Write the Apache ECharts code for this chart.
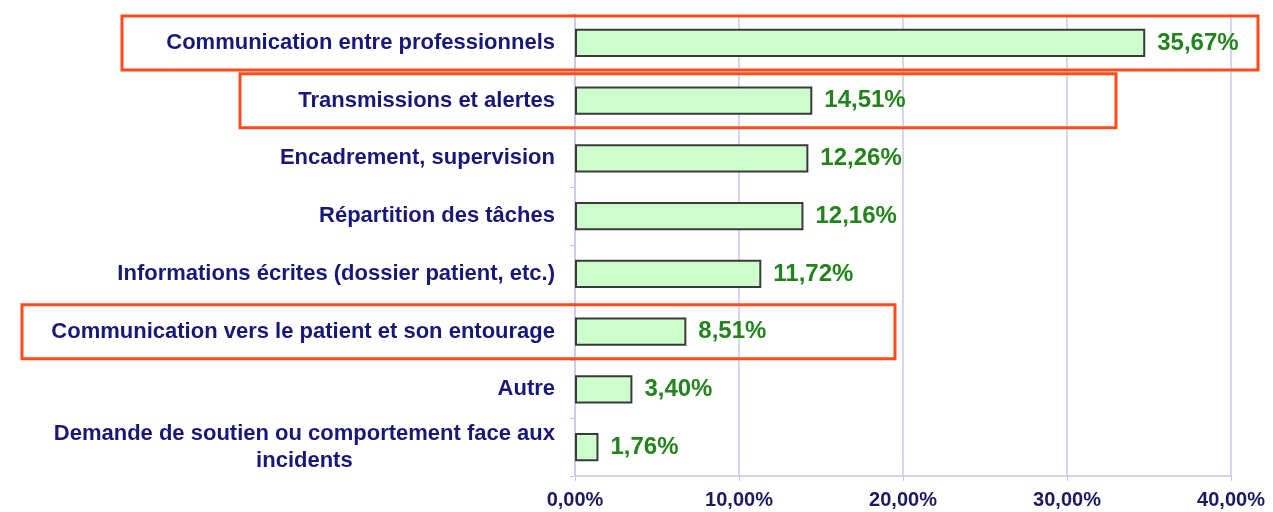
<!DOCTYPE html>
<html>
<head>
<meta charset="utf-8">
<script src="https://cdn.jsdelivr.net/npm/echarts@6/dist/echarts.min.js"></script>
<style>
  html, body { margin: 0; padding: 0; background: #fff; }
  #chart { width: 1273px; height: 512px; }
</style>
</head>
<body>
<div id="chart"></div>
<script>
  // categories, top to bottom
  const categories = [
    'Communication entre professionnels',
    'Transmissions et alertes',
    'Encadrement, supervision',
    'Répartition des tâches',
    'Informations écrites (dossier patient, etc.)',
    'Communication vers le patient et son entourage',
    'Autre',
    'Demande de soutien ou comportement face aux\nincidents'
  ]
  // printed percentages
  const labelValues = [35.67, 14.51, 12.26, 12.16, 11.72, 8.51, 3.40, 1.76]
  // bar lengths as drawn in the picture (they don't all match the printed values)
  const barLengths = [34.77, 14.47, 14.23, 13.93, 11.36, 6.79, 3.50, 1.43]
  const xTicks = [0, 10, 20, 30, 40]
  // categories framed in red, with left/right x of the frame
  const highlighted = [
    { idx: 0, x1: 122, x2: 1258 },
    { idx: 1, x1: 240, x2: 1116 },
    { idx: 5, x1: 22, x2: 895 }
  ]

  const fmt = v => v.toFixed(2).replace('.', ',') + '%'

  let myChart = echarts.init(document.getElementById('chart'))
  let option = {
    animation: false,
    grid: { left: 575, right: 42, top: 14, bottom: 36 },
    xAxis: {
      type: 'value',
      min: xTicks[0],
      max: xTicks[xTicks.length - 1],
      interval: 10,
      axisLine: { show: true, lineStyle: { color: '#c8c8e8', width: 1.5 } },
      axisTick: { show: true, length: 5, lineStyle: { color: '#c8c8e8' } },
      splitLine: { show: true, lineStyle: { color: '#c8c8e8', width: 1.5 } },
      axisLabel: {
        margin: 14,
        color: '#1a1a60',
        fontFamily: 'Liberation Sans',
        fontWeight: 'bold',
        fontSize: 20,
        formatter: v => fmt(v)
      }
    },
    yAxis: {
      type: 'category',
      inverse: true,
      data: categories,
      axisLine: { show: true, lineStyle: { color: '#c8c8e8', width: 1.5 } },
      axisTick: { show: true, length: 5, lineStyle: { color: '#c8c8e8' } },
      axisLabel: {
        margin: 20,
        color: '#18187a',
        fontFamily: 'Liberation Sans',
        fontWeight: 'bold',
        fontSize: 22,
        lineHeight: 27,
        formatter: v => v.indexOf('\n') >= 0
          ? v.split('\n').map(s => '{c|' + s + '}').join('\n')
          : v,
        rich: {
          c: {
            align: 'center',
            color: '#18187a',
            fontFamily: 'Liberation Sans',
            fontWeight: 'bold',
            fontSize: 22,
            lineHeight: 27
          }
        }
      }
    },
    series: [{
      type: 'bar',
      data: barLengths,
      barCategoryGap: '51%',
      itemStyle: {
        color: '#ccffcc',
        borderColor: '#3a3a3a',
        borderWidth: 2
      },
      label: {
        show: true,
        position: 'right',
        distance: 12,
        color: '#23841c',
        fontFamily: 'Liberation Sans',
        fontWeight: 'bold',
        fontSize: 24,
        formatter: p => fmt(labelValues[p.dataIndex])
      }
    }]
  }
  myChart.setOption(option)

  // red frames around the highlighted categories
  const half = 27
  myChart.setOption({
    graphic: highlighted.map(h => {
      const cy = myChart.convertToPixel({ yAxisIndex: 0 }, categories[h.idx])
      return {
        type: 'rect',
        shape: { x: h.x1, y: cy - half, width: h.x2 - h.x1, height: half * 2 },
        style: { fill: 'none', stroke: '#ff4a1c', lineWidth: 3 },
        z: 100
      }
    })
  })
</script>
</body>
</html>
